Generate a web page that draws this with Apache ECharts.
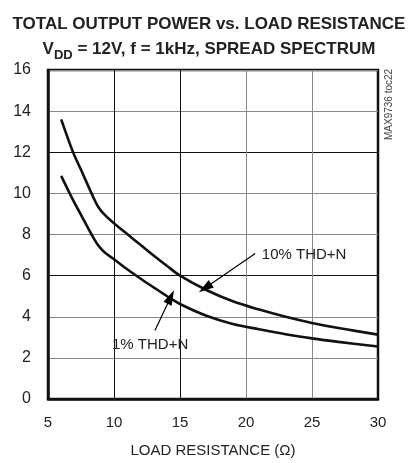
<!DOCTYPE html>
<html><head><meta charset="utf-8">
<script src="https://cdn.jsdelivr.net/npm/echarts@6/dist/echarts.min.js"></script>
<style>html,body{margin:0;padding:0;background:#fff}#c{width:418px;height:463px}</style>
</head><body><div id="c"></div>
<script>
const xTicks = [5, 10, 15, 20, 25, 30];
const yTicks = [0, 2, 4, 6, 8, 10, 12, 14, 16];
const loadR = [6, 6.9, 7.5, 8.3, 8.8, 9.3, 10, 11, 12, 13, 14, 15, 17, 19, 21, 23, 25, 27, 30];
const thd10 = [13.6, 12.0, 11.15, 10.0, 9.35, 8.95, 8.55, 8.02, 7.5, 6.98, 6.48, 6.0, 5.3, 4.75, 4.35, 4.0, 3.7, 3.45, 3.13];
const thd1  = [10.85, 9.67, 8.96, 8.0, 7.48, 7.12, 6.8, 6.31, 5.86, 5.43, 5.01, 4.62, 4.05, 3.65, 3.39, 3.15, 2.95, 2.78, 2.55];
const labels = ['10% THD+N', '1% THD+N'];
const arrow10 = [[20.7, 7.08], [16.9, 5.4]];
const arrow1 = [[13.1, 3.33], [14.3, 4.96]];
const label10Pos = [21.2, 7.02];
const label1Pos = [9.85, 2.62];

const FONT = '"Liberation Sans", Arial, sans-serif';
const chart = echarts.init(document.getElementById('c'));
const pair = (xs, ys) => xs.map((x, i) => [x, ys[i]]);

function arrowLine(a) {
  return {
    silent: true,
    symbol: ['none', 'triangle'],
    symbolSize: [9, 15],
    lineStyle: { color: '#000', width: 1.2, type: 'solid' },
    label: { show: false },
    data: [[{ coord: a[0] }, { coord: a[1] }]]
  };
}
function textPoint(pos, txt) {
  return {
    silent: true,
    symbol: 'circle', symbolSize: 0,
    data: [{ coord: pos, value: txt }],
    label: { show: true, position: 'right', distance: 0, formatter: txt, color: '#222', fontSize: 15, fontFamily: FONT }
  };
}

chart.setOption({
  animation: false,
  title: {
    left: 'center', top: 7,
    text: 'TOTAL OUTPUT POWER vs. LOAD RESISTANCE\nV{sub|DD} = 12V, f = 1kHz, SPREAD SPECTRUM',
    textStyle: {
      fontFamily: FONT, fontWeight: 'bold', fontSize: 17, color: '#222', lineHeight: 25,
      rich: { sub: { fontFamily: FONT, fontWeight: 'bold', fontSize: 13, color: '#222', verticalAlign: 'bottom', padding: [8, 0, 0, 0] } }
    }
  },
  grid: { left: 48, right: 40, top: 70, bottom: 61, show: true, borderColor: '#111', borderWidth: 2.5 },
  xAxis: {
    type: 'value', min: 5, max: 30, interval: 5,
    name: 'LOAD RESISTANCE (Ω)', nameLocation: 'middle', nameGap: 44,
    nameTextStyle: { fontFamily: FONT, fontSize: 15, color: '#222' },
    axisLine: { show: true, lineStyle: { color: '#111', width: 2.5 } },
    axisTick: { show: false },
    axisLabel: { fontFamily: FONT, fontSize: 15, color: '#222', margin: 16 },
    splitLine: { show: true, lineStyle: { color: ['#111', '#111', '#111', '#888', '#888', '#111'], width: 1 } }
  },
  yAxis: {
    type: 'value', min: 0, max: 16, interval: 2,
    axisLine: { show: true, lineStyle: { color: '#111', width: 2.5 } },
    axisTick: { show: false },
    axisLabel: { fontFamily: FONT, fontSize: 16, color: '#222', margin: 17 },
    splitLine: { show: true, lineStyle: { color: ['#111', '#888', '#888'], width: 1 } }
  },
  graphic: [{
    type: 'text', x: 384, y: 140, rotation: Math.PI / 2,
    style: { text: 'MAX9736 toc22', fontFamily: FONT, fontSize: 10, fill: '#444' }
  }],
  series: [
    { type: 'line', name: labels[0], data: pair(loadR, thd10), smooth: 0.35, showSymbol: false,
      lineStyle: { color: '#111', width: 2.6 }, markLine: arrowLine(arrow10) },
    { type: 'line', name: labels[1], data: pair(loadR, thd1), smooth: 0.35, showSymbol: false,
      lineStyle: { color: '#111', width: 2.6 }, markLine: arrowLine(arrow1) },
    { type: 'scatter', data: [], markPoint: textPoint(label10Pos, labels[0]) },
    { type: 'scatter', data: [], markPoint: textPoint(label1Pos, labels[1]) }
  ]
});
</script></body></html>
